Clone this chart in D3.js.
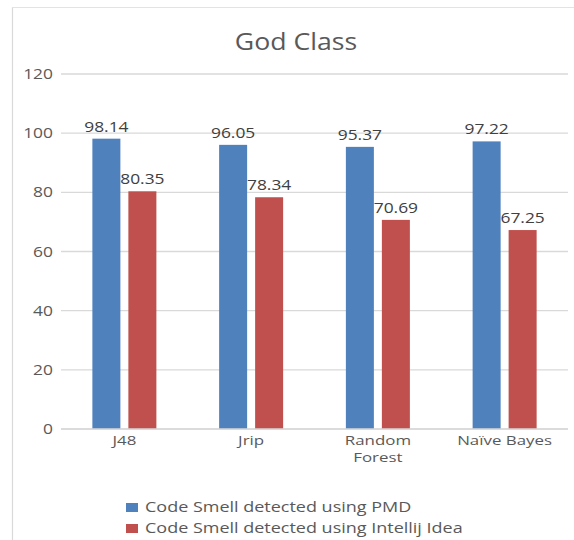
<!DOCTYPE html>
<html>
<head>
<meta charset="utf-8">
<script src="https://cdn.jsdelivr.net/npm/d3@7"></script>
<style>
  html, body { margin: 0; padding: 0; background: #fff; }
  svg { display: block; }
  text { font-family: "Open Sans", "Noto Sans", sans-serif; }
</style>
</head>
<body>
<svg id="chart" width="574" height="540"></svg>
<script>
const title = "God Class";
const categories = ["J48", "Jrip", "Random Forest", "Naïve Bayes"];
const categoryLines = [["J48"], ["Jrip"], ["Random", "Forest"], ["Naïve Bayes"]];
const seriesNames = ["Code Smell detected using PMD", "Code Smell detected using Intellij Idea"];
const pmdValues = [98.14, 96.05, 95.37, 97.22];
const intellijValues = [80.35, 78.34, 70.69, 67.25];
const yTicks = [0, 20, 40, 60, 80, 100, 120];
const colors = ["#4F81BD", "#C0504D"];

const SX = 1.2; // horizontal stretch of the reference typography
const svg = d3.select("#chart");

// frame
svg.append("line").attr("x1", 12.5).attr("x2", 12.5).attr("y1", 7).attr("y2", 540)
  .attr("stroke", "#d9d9d9").attr("stroke-width", 1.2);
svg.append("line").attr("x1", 12).attr("x2", 574).attr("y1", 7.5).attr("y2", 7.5)
  .attr("stroke", "#e3e3e3").attr("stroke-width", 1.2);

const x = d3.scaleBand().domain(categories).range([61, 568]).padding(0);
const y = d3.scaleLinear().domain([0, 120]).range([429, 74]);

function stext(g, tx, ty, str, size, fill, anchor, sx) {
  return g.append("text")
    .attr("transform", `translate(${tx},${ty}) scale(${sx || SX},1)`)
    .attr("text-anchor", anchor || "middle")
    .attr("font-size", size)
    .attr("fill", fill)
    .text(str);
}

// title
stext(svg, 296, 50, title, 23, "#595959", "middle", 1.16);

// gridlines
const yAxis = d3.axisLeft(y).tickValues(yTicks).tickSize(0).tickPadding(8);
const yg = svg.append("g").attr("transform", "translate(61,0)").call(yAxis);
yg.select(".domain").remove();
yg.selectAll(".tick text").remove();
svg.append("g").selectAll("line").data(yTicks).join("line")
  .attr("x1", 61).attr("x2", 568)
  .attr("y1", d => y(d)).attr("y2", d => y(d))
  .attr("stroke", "#d9d9d9").attr("stroke-width", 1.4);

// y tick labels
const tickG = svg.append("g");
yTicks.forEach(t => stext(tickG, 53, y(t) + 5, String(t), 14.5, "#595959", "end"));

// bars
const barW = 28, gap = 8;
const bars = svg.append("g");
categories.forEach((c, i) => {
  const cx = x(c) + x.bandwidth() / 2;
  [pmdValues[i], intellijValues[i]].forEach((v, s) => {
    const bx = s === 0 ? cx - gap / 2 - barW : cx + gap / 2;
    bars.append("rect")
      .attr("x", bx).attr("y", y(v))
      .attr("width", barW).attr("height", y(0) - y(v))
      .attr("fill", colors[s]);
    stext(bars, bx + barW / 2, y(v) - 7, v.toFixed(2), 14.5, "#404040", "middle");
  });
});

// x axis line
svg.append("line").attr("x1", 61).attr("x2", 568).attr("y1", y(0)).attr("y2", y(0))
  .attr("stroke", "#d9d9d9").attr("stroke-width", 1.4);

// category labels (multi-line as tspans in one text)
const catG = svg.append("g");
categories.forEach((c, i) => {
  const cx = x(c) + x.bandwidth() / 2;
  const t = catG.append("text")
    .attr("transform", `translate(${cx},444.5) scale(1.3,1)`)
    .attr("text-anchor", "middle")
    .attr("font-size", 13)
    .attr("fill", "#595959");
  categoryLines[i].forEach((ln, k) => {
    t.append("tspan").attr("x", 0).attr("y", k * 17.8).text(ln);
  });
});

// legend
const legG = svg.append("g");
seriesNames.forEach((n, i) => {
  const ly = 503 + i * 21;
  legG.append("rect").attr("x", 126).attr("y", ly).attr("width", 12).attr("height", 9)
    .attr("fill", colors[i]);
  stext(legG, 145, ly + 8.5, n, 15, "#595959", "start");
});
</script>
</body>
</html>
